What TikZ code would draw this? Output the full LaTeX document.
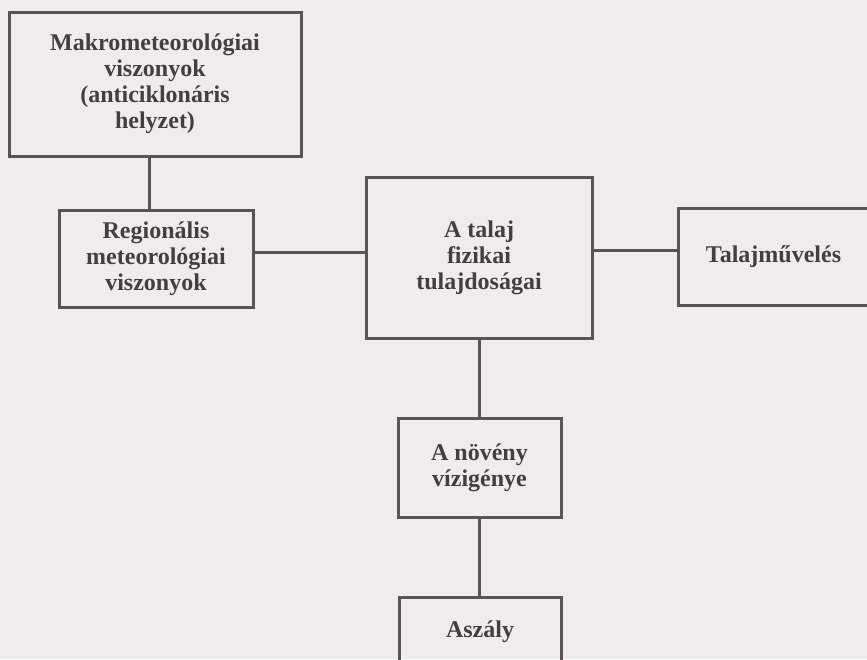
\documentclass[tikz,border=0pt]{standalone}
\usepackage{fontspec}
\setmainfont{Liberation Serif}
\definecolor{bgc}{RGB}{240,236,238}
\definecolor{linec}{RGB}{90,82,85}
\definecolor{textc}{RGB}{68,62,65}
\begin{document}
\begin{tikzpicture}[x=1pt,y=-1pt,
  box/.style={draw=linec, line width=3pt, inner sep=0pt, align=center,
    text=textc, font=\fontsize{24}{26}\selectfont\bfseries},
  conn/.style={draw=linec, line width=3pt}]
\fill[bgc] (0,0) rectangle (867,659);
\useasboundingbox (0,0) rectangle (867,659);
\node[box, minimum width=292pt, minimum height=144pt] (b1) at (155,84)
  {Makrometeorológiai\\viszonyok\\(anticiklonáris\\helyzet)};
\node[box, minimum width=194pt, minimum height=97pt] (b2) at (156,258.5)
  {Regionális\\meteorológiai\\viszonyok};
\node[box, minimum width=226pt, minimum height=161pt] (b3) at (479,257.5)
  {A talaj\\fizikai\\tulajdoságai};
\node[box, minimum width=191pt, minimum height=97pt] (b4) at (773.5,256.5)
  {Talajművelés};
\node[box, minimum width=163pt, minimum height=99pt] (b5) at (479.5,467.5)
  {A növény\\vízigénye};
\node[box, minimum width=162pt, minimum height=70pt] (b6) at (480,632)
  {Aszály};
\coordinate (c12) at (149,0);
\coordinate (c23) at (0,252);
\coordinate (c34) at (0,250);
\draw[conn] (b1.south -| c12) -- (b2.north -| c12);
\draw[conn] (b2.east |- c23) -- (b3.west |- c23);
\draw[conn] (b3.east |- c34) -- (b4.west |- c34);
\draw[conn] (b3.south) -- (b5.north -| b3.south);
\draw[conn] (b5.south) -- (b6.north -| b5.south);
\end{tikzpicture}
\end{document}
